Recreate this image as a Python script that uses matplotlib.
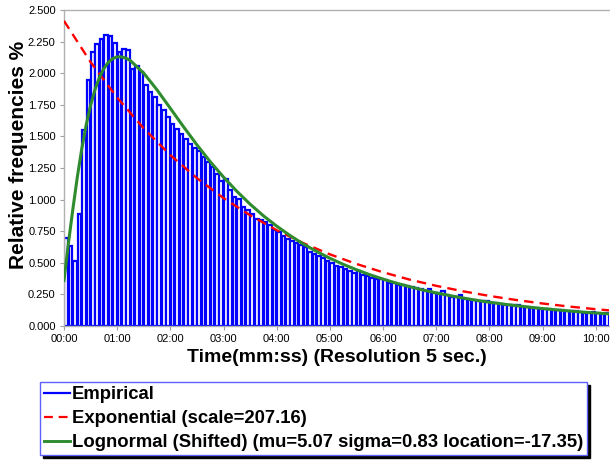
import matplotlib
matplotlib.use("Agg")
import matplotlib.pyplot as plt
from matplotlib.lines import Line2D

plt.rcParams['font.family'] = ['Liberation Sans', 'DejaVu Sans']

# ---- data (relative frequency %, 5-second bins) ----
bin_width_s = 5
empirical = [
    0.70, 0.635, 0.514, 0.888, 1.55, 1.944, 2.17, 2.23, 2.268, 2.30,
    2.295, 2.24, 2.17, 2.19, 2.18, 2.03, 2.057, 2.01, 1.91, 1.85,
    1.81, 1.75, 1.71, 1.65, 1.60, 1.556, 1.52, 1.48, 1.44, 1.41,
    1.385, 1.335, 1.295, 1.255, 1.20, 1.15, 1.165, 1.076, 1.02, 1.007,
    0.94, 0.915, 0.884, 0.847, 0.839, 0.82, 0.797, 0.76, 0.744, 0.712,
    0.69, 0.675, 0.654, 0.64, 0.627, 0.585, 0.57, 0.554, 0.538, 0.517,
    0.496, 0.475, 0.464, 0.449, 0.433, 0.417, 0.437, 0.406, 0.396, 0.38,
    0.372,
    0.369, 0.364, 0.343, 0.338, 0.327, 0.327, 0.316, 0.311, 0.303, 0.295,
    0.28, 0.295, 0.264, 0.258, 0.274, 0.248, 0.232, 0.229, 0.248, 0.211,
    0.206, 0.203, 0.198, 0.195, 0.201, 0.185, 0.179, 0.177, 0.164, 0.164,
    0.164, 0.169, 0.153, 0.148, 0.142, 0.142, 0.137, 0.137, 0.132, 0.127,
    0.127, 0.127, 0.121, 0.116, 0.116, 0.111, 0.100, 0.100, 0.111, 0.100,
    0.095, 0.100,
]

expo_t = [0, 30, 60, 90, 120, 150, 180, 210, 240, 270, 300, 330, 360,
          390, 420, 450, 480, 510, 540, 570, 600, 615]
expo_v = [2.414, 2.088, 1.807, 1.563, 1.352, 1.170, 1.012, 0.876, 0.758,
          0.656, 0.567, 0.491, 0.425, 0.367, 0.318, 0.275, 0.238, 0.206,
          0.178, 0.154, 0.133, 0.124]

logn_t = [0, 5, 10, 15, 20, 25, 30, 35, 40, 45, 50, 55, 60, 65, 70, 75, 90,
          105, 120, 135, 150, 165, 180, 195, 210, 225, 240, 255, 270, 285,
          300, 315, 330, 345, 360, 375, 390, 405, 420, 435, 450, 465, 480,
          495, 510, 525, 540, 555, 570, 585, 600, 615]
logn_v = [0.36, 0.656, 0.924, 1.177, 1.400, 1.590, 1.746, 1.871, 1.967,
          2.037, 2.086, 2.116, 2.129, 2.129, 2.119, 2.099, 2.000, 1.868,
          1.722, 1.575, 1.433, 1.300, 1.178, 1.066, 0.964, 0.872, 0.790,
          0.716, 0.649, 0.590, 0.536, 0.488, 0.445, 0.406, 0.371, 0.339,
          0.311, 0.285, 0.262, 0.241, 0.222, 0.204, 0.188, 0.174, 0.161,
          0.149, 0.138, 0.128, 0.119, 0.110, 0.103, 0.096]

tick_seconds = [0, 60, 120, 180, 240, 300, 360, 420, 480, 540, 600]
tick_labels = ["00:00", "01:00", "02:00", "03:00", "04:00", "05:00",
               "06:00", "07:00", "08:00", "09:00", "10:00"]
y_ticks = [0.0, 0.25, 0.5, 0.75, 1.0, 1.25, 1.5, 1.75, 2.0, 2.25, 2.5]

legend_labels = ["Empirical", "Exponential (scale=207.16)",
                 "Lognormal (Shifted) (mu=5.07 sigma=0.83 location=-17.35)"]

# ---- figure ----
W, H = 610, 461
fig = plt.figure(figsize=(W / 100, H / 100), dpi=100)
ax = fig.add_axes([64 / W, 1 - 326 / H, (609 - 64) / W, (326 - 10) / H])

centers = [i * bin_width_s + bin_width_s / 2 for i in range(len(empirical))]
ax.bar(centers, empirical, width=bin_width_s * 0.82, color='white',
       edgecolor='#0000FF', linewidth=1.6, zorder=2)
ax.plot(expo_t, expo_v, color='#FF0000', lw=1.7, ls=(0, (4, 2.6)), zorder=3)
ax.plot(logn_t, logn_v, color='#2E8B2E', lw=2.2, zorder=4)

ax.set_xlim(0, len(empirical) * bin_width_s)
ax.set_ylim(0, 2.5)
ax.set_xticks(tick_seconds)
ax.set_xticklabels(tick_labels)
ax.set_yticks(y_ticks)
ax.set_yticklabels([f"{v:.3f}" for v in y_ticks])
ax.tick_params(axis='both', labelsize=8, color='#A0A0A0', length=3,
               width=0.8, direction='out', pad=3)
for s in ax.spines.values():
    s.set_color('#B0B0B0')
    s.set_linewidth(1.0)
ax.spines['right'].set_visible(False)

ax.set_ylabel("Relative frequencies %", fontsize=15, fontweight='bold')
ax.yaxis.set_label_coords(-0.066, 0.54)
ax.set_xlabel("Time(mm:ss) (Resolution 5 sec.)", fontsize=14,
              fontweight='bold', labelpad=3)

handles = [Line2D([], [], color='#0000FF', lw=1.6),
           Line2D([], [], color='#FF0000', lw=1.6, ls=(0, (4, 2.6))),
           Line2D([], [], color='#2E8B2E', lw=2.1)]
leg = fig.legend(handles, legend_labels, loc='upper left',
                 bbox_to_anchor=(40 / W, 1 - 382 / H),
                 prop={'weight': 'bold', 'size': 13.3},
                 frameon=True, fancybox=False,
                 shadow={'color': 'black', 'alpha': 1.0},
                 handlelength=1.4, handletextpad=0.12, borderpad=0.22,
                 labelspacing=0.38, borderaxespad=0)
leg.get_frame().set_edgecolor('#6060FF')
leg.get_frame().set_linewidth(1.0)

fig.savefig("out.png", dpi=100)
